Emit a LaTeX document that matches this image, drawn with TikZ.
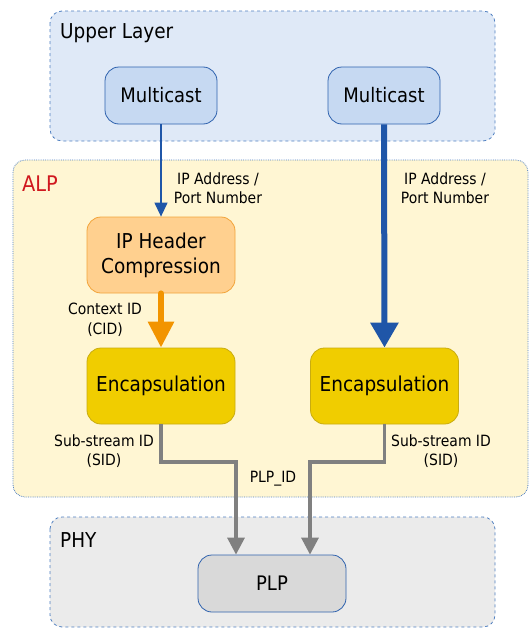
\documentclass[tikz,border=0pt]{standalone}
\usepackage{fontspec}
\setmainfont{DejaVu Sans Condensed}
\usetikzlibrary{arrows.meta}
\definecolor{ulfill}{HTML}{DFE9F7}
\definecolor{ulborder}{HTML}{4F7FC0}
\definecolor{mcfill}{HTML}{C6D9F2}
\definecolor{mcborder}{HTML}{2F62AE}
\definecolor{alpfill}{HTML}{FFF6D3}
\definecolor{hcfill}{HTML}{FFD08F}
\definecolor{hcborder}{HTML}{F2A43A}
\definecolor{encfill}{HTML}{F0CD00}
\definecolor{encborder}{HTML}{C9AC10}
\definecolor{phyfill}{HTML}{EBEBEB}
\definecolor{plpfill}{HTML}{D9D9D9}
\definecolor{grayline}{HTML}{808080}
\definecolor{orangeline}{HTML}{F29400}
\definecolor{blueline}{HTML}{1F56A8}
\definecolor{alpred}{HTML}{D0181E}
\tikzset{
  layer/.style={rounded corners=12pt, line width=0.8pt},
  block/.style={rounded corners=14pt, line width=0.8pt, minimum width=112pt, minimum height=57pt, inner sep=0pt, align=center, font=\fontsize{20}{24}\selectfont},
  bigblock/.style={block, minimum width=148pt, minimum height=76pt, font=\fontsize{20.5}{25}\selectfont},
  lbl/.style={font=\fontsize{15.5}{19.5}\selectfont, align=center, inner sep=0pt},
  title/.style={font=\fontsize{20.5}{24}\selectfont, anchor=west, inner sep=0pt},
}
\begin{document}
\begin{tikzpicture}[x=1pt,y=-1pt]
\useasboundingbox (0,0) rectangle (529,629);
% layers
\draw[layer, fill=ulfill, draw=ulborder, dashed] (50,11) rectangle (495,141);
\draw[layer, fill=alpfill, draw=ulborder, densely dotted] (13,160) rectangle (528,497);
\draw[layer, fill=phyfill, draw=ulborder, dashed] (50,517) rectangle (495,627);
\node[title] (tul) at (60,33) {Upper Layer};
\node[title, text=alpred, font=\fontsize{21.5}{25}\selectfont] (talp) at (22,184) {ALP};
\node[title] (tphy) at (60,540) {PHY};
% blocks
\node[block, fill=mcfill, draw=mcborder] (mc1) at (161,95.5) {Multicast};
\node[block, fill=mcfill, draw=mcborder] (mc2) at (384,95.5) {Multicast};
\node[bigblock, fill=hcfill, draw=hcborder] (hc) at (161,255) {IP Header\\Compression};
\node[bigblock, fill=encfill, draw=encborder] (enc1) at (161,386) {Encapsulation};
\node[bigblock, fill=encfill, draw=encborder] (enc2) at (384.5,386) {Encapsulation};
\node[block, fill=plpfill, draw=mcborder, minimum width=148pt] (plp) at (272,583.5) {PLP};
% connectors
\draw[blueline, line width=1.3pt, -{Triangle[width=13pt,length=14pt]}] (mc1.south) -- (hc.north);
\draw[blueline, line width=6pt, -{Triangle[width=27pt,length=25pt]}] (mc2.south) -- (enc2.north);
\draw[orangeline, line width=6pt, line cap=round, -{Triangle[width=25pt,length=26pt]}] (hc.south) -- (enc1.north);
\coordinate (j1a) at (161,462);
\coordinate (j1b) at (236,462);
\coordinate (j2a) at (384.5,462);
\coordinate (j2b) at (310,462);
\draw[grayline, line width=3.3pt, -{Triangle[width=17pt,length=17pt]}] (enc1.south) -- (j1a) -- (j1b) -- (j1b |- plp.north);
\draw[grayline, line width=3.3pt, -{Triangle[width=17pt,length=17pt]}] (enc2.south) -- (j2a) -- (j2b) -- (j2b |- plp.north);
% labels
\node[lbl] (l1) at (218,188) {IP Address /\\Port Number};
\node[lbl] (l2) at (445,188) {IP Address /\\Port Number};
\node[lbl] (l3) at (105,320) {Context ID\\(CID)};
\node[lbl] (l4) at (104,451) {Sub-stream ID\\(SID)};
\node[lbl] (l5) at (441,451) {Sub-stream ID\\(SID)};
\node[lbl] (l6) at (273,479) {PLP\_ID};
\end{tikzpicture}
\end{document}
